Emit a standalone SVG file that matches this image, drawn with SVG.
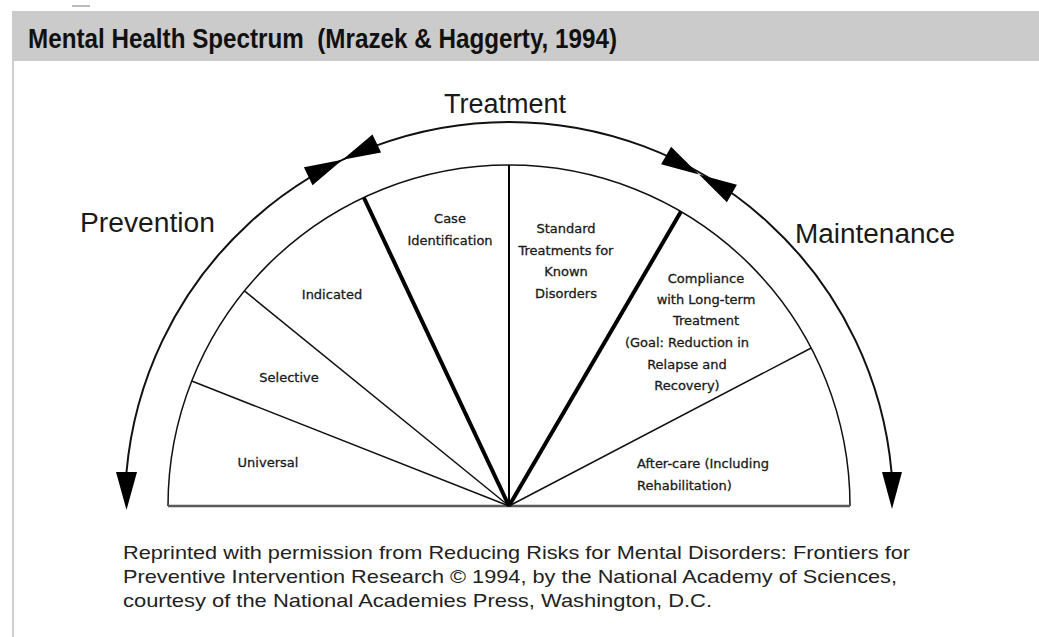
<svg xmlns="http://www.w3.org/2000/svg" width="1039" height="637" viewBox="0 0 1039 637">
<style>
.hdr{font-family:"Liberation Sans",Arial,sans-serif;font-weight:bold;font-size:27px;fill:#111}
.big{font-family:"Liberation Sans",Arial,sans-serif;font-size:27px;fill:#1a1a1a}
.lbl{font-family:"DejaVu Sans","Liberation Sans",sans-serif;font-size:13px;fill:#1a1a1a;stroke:#1a1a1a;stroke-width:0.3}
.ctr{text-anchor:middle}
.note{font-family:"Liberation Sans",Arial,sans-serif;font-size:19px;fill:#222}
.arc{fill:none;stroke:#111;stroke-width:2}
.thin{stroke:#111;stroke-width:1.5;fill:none}
.thick{stroke:#000;stroke-width:4;fill:none}
.head{fill:#000}
</style>
<defs>
<g id="bowtie"><polygon points="0,0 -38,-10 -38,10"/><polygon points="0,0 38,-10 38,10"/></g>
</defs>
<rect x="0" y="0" width="1039" height="637" fill="#fff"/>
<line x1="72" y1="6" x2="90" y2="6" stroke="#bbb" stroke-width="2"/>
<g id="header">
<rect x="12" y="11" width="1027" height="50" fill="#cbcbcb"/>
<line x1="13" y1="61" x2="13" y2="637" stroke="#cfcfcf" stroke-width="2"/>
<text class="hdr" x="28" y="48" textLength="589" lengthAdjust="spacingAndGlyphs">Mental Health Spectrum&#160; (Mrazek &amp; Haggerty, 1994)</text>
</g>
<g id="connectors">
<path class="arc" d="M126.5 472 A384 384 0 0 1 891.5 472"/>
<polygon class="head" points="116,472 137,472 126.5,510"/>
<polygon class="head" points="882,472 902,472 892,509"/>
<use href="#bowtie" class="head" transform="translate(342.5 159.8) rotate(-25.5)"/>
<use href="#bowtie" class="head" transform="translate(699 174.5) rotate(30)"/>
<path class="thin" d="M168 506 A341 341 0 0 1 850 506"/>
<line x1="168" y1="506" x2="850" y2="506" stroke="#5a5a5a" stroke-width="2.5"/>
<line class="thin" x1="509" y1="506" x2="191.7" y2="381"/>
<line class="thin" x1="509" y1="506" x2="244.4" y2="290.9"/>
<line class="thick" x1="509" y1="506" x2="363.8" y2="197.5"/>
<line x1="509" y1="506" x2="509" y2="165" stroke="#000" stroke-width="2"/>
<line class="thick" x1="509" y1="506" x2="681" y2="211.6"/>
<line class="thin" x1="509" y1="506" x2="811.2" y2="348"/>
</g>
<g id="treatment"><text class="big ctr" x="505" y="113">Treatment</text></g>
<g id="prevention"><text class="big" x="80" y="232" textLength="135" lengthAdjust="spacingAndGlyphs">Prevention</text></g>
<g id="maintenance"><text class="big" x="795" y="243" textLength="160" lengthAdjust="spacingAndGlyphs">Maintenance</text></g>
<g id="universal"><text class="lbl ctr" x="268" y="467">Universal</text></g>
<g id="selective"><text class="lbl ctr" x="289" y="382">Selective</text></g>
<g id="indicated"><text class="lbl ctr" x="332" y="299">Indicated</text></g>
<g id="case-identification"><text class="lbl ctr" x="450" y="223">Case</text><text class="lbl ctr" x="450" y="245">Identification</text></g>
<g id="standard-treatments"><text class="lbl ctr" x="566" y="233">Standard</text><text class="lbl ctr" x="566" y="255">Treatments for</text><text class="lbl ctr" x="566" y="276">Known</text><text class="lbl ctr" x="566" y="298">Disorders</text></g>
<g id="compliance"><text class="lbl ctr" x="706" y="283">Compliance</text><text class="lbl ctr" x="706" y="304">with Long-term</text><text class="lbl ctr" x="706" y="325">Treatment</text><text class="lbl ctr" x="687" y="347">(Goal: Reduction in</text><text class="lbl ctr" x="687" y="369">Relapse and</text><text class="lbl ctr" x="687" y="390">Recovery)</text></g>
<g id="after-care"><text class="lbl" x="637" y="468">After-care (Including</text><text class="lbl" x="637" y="490">Rehabilitation)</text></g>
<g id="credit">
<text class="note" x="123" y="559" textLength="787" lengthAdjust="spacingAndGlyphs">Reprinted with permission from Reducing Risks for Mental Disorders: Frontiers for</text>
<text class="note" x="123" y="583" textLength="774" lengthAdjust="spacingAndGlyphs">Preventive Intervention Research © 1994, by the National Academy of Sciences,</text>
<text class="note" x="123" y="607" textLength="589" lengthAdjust="spacingAndGlyphs">courtesy of the National Academies Press, Washington, D.C.</text>
</g>
</svg>
